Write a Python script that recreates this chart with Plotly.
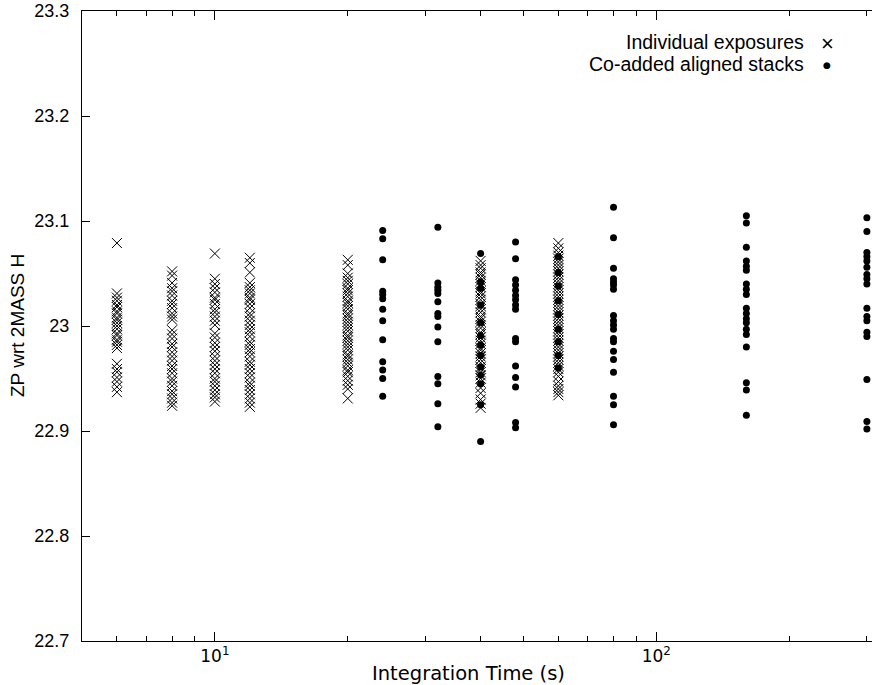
import plotly.graph_objects as go
import math

# ---- data: individual exposures (crosses) ----
ind_times = [6, 8, 10, 12, 20, 40, 60]
zp_ind_6 = [23.079, 23.031, 23.027, 23.024, 23.020, 23.018, 23.014, 23.012, 23.008, 23.006, 23.003,
            23.000, 22.997, 22.993, 22.991, 22.987, 22.985, 22.982, 22.979, 22.964, 22.959, 22.956,
            22.951, 22.947, 22.942, 22.937]
zp_ind_8 = [23.052, 23.048, 23.041, 23.036, 23.033, 23.029, 23.024, 23.021, 23.017, 23.012, 23.009,
            23.006, 22.996, 22.992, 22.988, 22.983, 22.980, 22.975, 22.971, 22.967, 22.962, 22.959,
            22.955, 22.950, 22.947, 22.943, 22.938, 22.935, 22.931, 22.927, 22.924]
zp_ind_10 = [23.069, 23.045, 23.040, 23.036, 23.032, 23.027, 23.025, 23.021, 23.016, 23.013, 23.009,
             23.005, 23.001, 22.993, 22.989, 22.984, 22.980, 22.976, 22.971, 22.967, 22.963, 22.959,
             22.955, 22.950, 22.947, 22.943, 22.939, 22.935, 22.932, 22.928]
zp_ind_12 = [23.065, 23.060, 23.051, 23.041, 23.037, 23.034, 23.031, 23.027, 23.025, 23.021, 23.017,
             23.012, 23.009, 23.005, 23.001, 22.997, 22.994, 22.990, 22.985, 22.982, 22.978, 22.975,
             22.971, 22.966, 22.963, 22.959, 22.955, 22.951, 22.946, 22.943, 22.939, 22.935, 22.931,
             22.927, 22.923]
zp_ind_20 = [23.063, 23.058, 23.050, 23.046, 23.043, 23.040, 23.036, 23.034, 23.031, 23.028, 23.024,
             23.022, 23.019, 23.016, 23.012, 23.010, 23.007, 23.004, 23.001, 22.998, 22.995, 22.991,
             22.989, 22.986, 22.983, 22.980, 22.977, 22.973, 22.971, 22.968, 22.965, 22.962, 22.958,
             22.956, 22.952, 22.948, 22.944, 22.940, 22.931]
zp_ind_40 = [23.062, 23.058, 23.055, 23.051, 23.049, 23.046, 23.043, 23.040, 23.037, 23.033, 23.031,
             23.028, 23.025, 23.021, 23.019, 23.016, 23.013, 23.009, 23.007, 23.004, 23.001, 22.998,
             22.994, 22.992, 22.989, 22.986, 22.983, 22.979, 22.977, 22.974, 22.971, 22.968, 22.965,
             22.961, 22.959, 22.956, 22.953, 22.950, 22.946, 22.941, 22.936, 22.930, 22.926, 22.922]
zp_ind_60 = [23.079, 23.074, 23.070, 23.067, 23.064, 23.061, 23.058, 23.055, 23.052, 23.049, 23.046,
             23.043, 23.040, 23.037, 23.034, 23.031, 23.028, 23.025, 23.022, 23.019, 23.016, 23.013,
             23.010, 23.007, 23.004, 23.001, 22.998, 22.995, 22.992, 22.989, 22.986, 22.983, 22.980,
             22.977, 22.974, 22.971, 22.968, 22.965, 22.962, 22.959, 22.956, 22.952, 22.947, 22.943,
             22.940, 22.937, 22.934]

# ---- data: co-added aligned stacks (dots) ----
stack_times = [24, 32, 40, 48, 60, 80, 160, 300]
zp_stk_24 = [23.091, 23.083, 23.063, 23.033, 23.030, 23.026, 23.016, 23.005, 22.987, 22.966, 22.958,
             22.950, 22.933]
zp_stk_32 = [23.094, 23.041, 23.037, 23.034, 23.031, 23.023, 23.012, 23.009, 22.999, 22.985, 22.952,
             22.945, 22.926, 22.904]
zp_stk_40 = [23.069, 23.042, 23.036, 23.020, 23.003, 22.991, 22.982, 22.972, 22.961, 22.953, 22.945,
             22.925, 22.890]
zp_stk_48 = [23.080, 23.064, 23.044, 23.039, 23.034, 23.029, 23.025, 23.020, 23.016, 22.988, 22.985,
             22.962, 22.951, 22.942, 22.908, 22.903]
zp_stk_60 = [23.066, 23.051, 23.038, 23.024, 23.011, 22.997, 22.985, 22.972, 22.960]
zp_stk_80 = [23.113, 23.084, 23.055, 23.045, 23.042, 23.039, 23.035, 23.010, 23.005, 23.001, 22.997,
             22.988, 22.985, 22.976, 22.968, 22.956, 22.933, 22.925, 22.906]
zp_stk_160 = [23.105, 23.098, 23.075, 23.062, 23.057, 23.053, 23.040, 23.035, 23.030, 23.017, 23.012,
              23.007, 23.003, 22.997, 22.992, 22.980, 22.946, 22.939, 22.915]
zp_stk_300 = [23.103, 23.090, 23.070, 23.066, 23.062, 23.056, 23.049, 23.045, 23.040, 23.017, 23.009,
              23.005, 22.994, 22.990, 22.949, 22.909, 22.902]

y_tick_vals = [22.7, 22.8, 22.9, 23.0, 23.1, 23.2, 23.3]
y_tick_text = ["22.7", "22.8", "22.9", "23", "23.1", "23.2", "23.3"]
x_major_vals = [10, 100]
x_major_text = ["10<sup>1</sup>", "10<sup>2</sup>"]
x_minor_vals = [6, 7, 8, 9, 20, 30, 40, 50, 60, 70, 80, 90, 200, 300]

ind_lists = [zp_ind_6, zp_ind_8, zp_ind_10, zp_ind_12, zp_ind_20, zp_ind_40, zp_ind_60]
stk_lists = [zp_stk_24, zp_stk_32, zp_stk_40, zp_stk_48, zp_stk_60, zp_stk_80, zp_stk_160, zp_stk_300]

ind_x, ind_y = [], []
for t, vals in zip(ind_times, ind_lists):
    ind_x += [t] * len(vals)
    ind_y += vals
stk_x, stk_y = [], []
for t, vals in zip(stack_times, stk_lists):
    stk_x += [t] * len(vals)
    stk_y += vals

FONT = "Liberation Sans, Arial, sans-serif"
FONT2 = "DejaVu Sans, sans-serif"

fig = go.Figure()
fig.add_trace(go.Scatter(x=stk_x, y=stk_y, mode="markers", name="Co-added aligned stacks",
                         marker=dict(symbol="circle", size=7, color="black", line=dict(width=0)),
                         cliponaxis=False))
fig.add_trace(go.Scatter(x=ind_x, y=ind_y, mode="markers", name="Individual exposures",
                         marker=dict(symbol="x-thin-open", size=10, color="black",
                                     line=dict(width=1, color="black"))))

fig.update_layout(
    template="none",
    width=872, height=685,
    margin=dict(l=82, r=0, t=11, b=44, pad=0),
    paper_bgcolor="white", plot_bgcolor="white",
    showlegend=False,
    font=dict(family=FONT, size=18, color="black"),
    xaxis=dict(type="log", range=[math.log10(5), math.log10(5) + 790 / 441.4],
               automargin=False,
               tickmode="array", tickvals=x_major_vals, ticktext=x_major_text,
               ticks="inside", ticklen=9, tickwidth=1, tickcolor="black",
               showline=True, linecolor="black", linewidth=1, mirror="allticks",
               showgrid=False, zeroline=False,
               minor=dict(tickmode="array", tickvals=x_minor_vals, ticks="inside",
                          ticklen=5, tickcolor="black", tickwidth=1, showgrid=False),
               tickfont=dict(family=FONT2, size=17)),
    yaxis=dict(range=[22.7, 23.3], tickmode="array", tickvals=y_tick_vals, ticktext=y_tick_text,
               automargin=False,
               ticks="inside", ticklen=8, tickwidth=1, tickcolor="black",
               showline=True, linecolor="black", linewidth=1, mirror=False,
               showgrid=False, zeroline=False, ticklabelstandoff=8,
               tickfont=dict(family=FONT, size=18)),
)

# axis titles
fig.add_annotation(text="Integration Time (s)", xref="paper", yref="paper",
                   x=(468 - 82) / 790, y=(641 - 673) / 630, xanchor="center", yanchor="middle",
                   showarrow=False, font=dict(family=FONT2, size=19.5))
fig.add_annotation(text="ZP wrt 2MASS H", xref="paper", yref="paper", textangle=-90,
                   x=(17 - 82) / 790, y=0.5, xanchor="center", yanchor="middle",
                   showarrow=False, font=dict(family=FONT, size=19))

# legend (gnuplot style: text right-aligned, key on right)
legend_items = [("Individual exposures", 42), ("Co-added aligned stacks", 64)]
for label, ypx in legend_items:
    fig.add_annotation(text=label, xref="paper", yref="paper",
                       x=(806 - 82) / 790, y=(641 - ypx) / 630, xanchor="right", yanchor="middle",
                       showarrow=False, font=dict(family=FONT, size=19.5))
fig.add_annotation(text="×", xref="paper", yref="paper", x=(827 - 82) / 790, y=(641 - 43) / 630,
                   xanchor="center", yanchor="middle", showarrow=False,
                   font=dict(family=FONT, size=22))
fig.add_annotation(text="●", xref="paper", yref="paper", x=(827 - 82) / 790, y=(641 - 65) / 630,
                   xanchor="center", yanchor="middle", showarrow=False,
                   font=dict(family="DejaVu Sans", size=9))

fig.write_html(
    "out.html",
    config={"displayModeBar": False},
    post_script="document.body.style.margin='0';document.body.style.overflow='hidden';"
                "document.documentElement.style.overflow='hidden';",
)
